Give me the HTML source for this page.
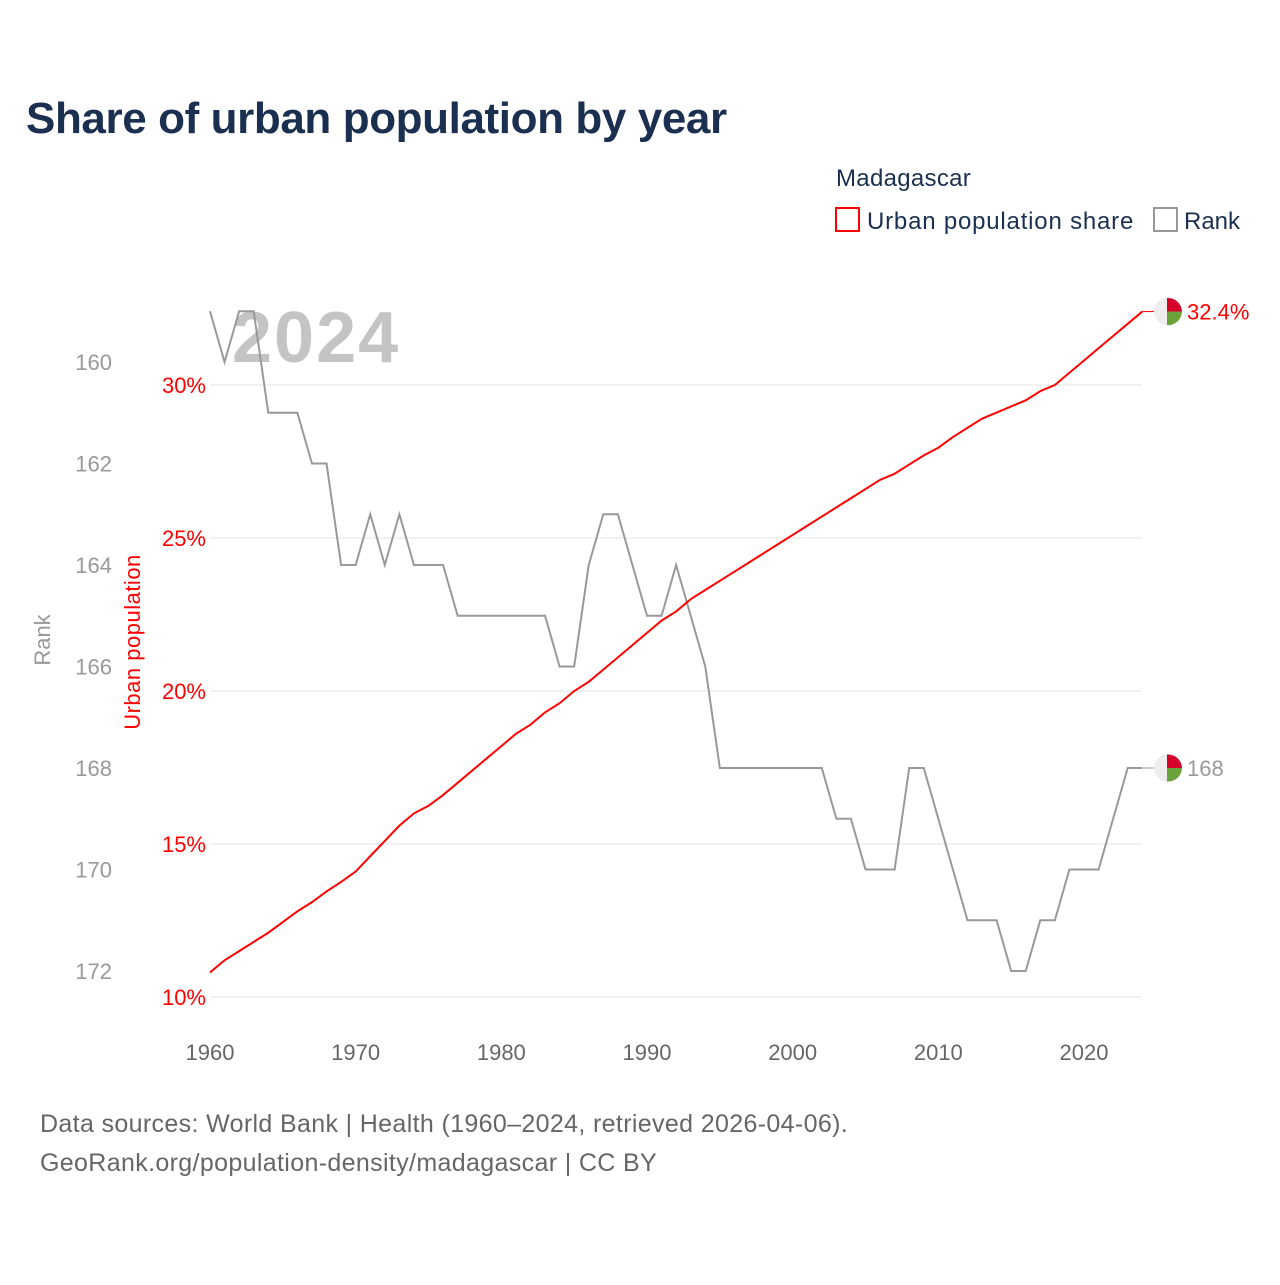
<!DOCTYPE html>
<html><head><meta charset="utf-8"><style>
body{margin:0;background:#fff;font-family:"Liberation Sans",sans-serif}
</style></head><body>
<svg id="chart" width="1280" height="1280" viewBox="0 0 1280 1280" xmlns="http://www.w3.org/2000/svg">
<text x="26" y="133" font-size="44" font-weight="bold" fill="#1b3050" letter-spacing="-0.4">Share of urban population by year</text>
<text x="836" y="186" font-size="24" fill="#1b3050" letter-spacing="0.3">Madagascar</text>
<g><rect x="836" y="208" width="23" height="23" fill="none" stroke="#f00" stroke-width="2"/><text x="867" y="229" font-size="24" fill="#1b3050" letter-spacing="0.8">Urban population share</text></g>
<g><rect x="1154" y="208" width="23" height="23" fill="none" stroke="#999" stroke-width="2"/><text x="1184" y="229" font-size="24" fill="#1b3050">Rank</text></g>
<text x="232" y="362" font-size="72" font-weight="bold" fill="#c4c4c4" letter-spacing="2">2024</text>
<g id="grid"></g><g id="axes"></g><g id="series"></g>
<text transform="translate(50,640) rotate(-90)" text-anchor="middle" font-size="22" fill="#999">Rank</text>
<text transform="translate(140,642) rotate(-90)" text-anchor="middle" font-size="22" fill="#f00" letter-spacing="0.5">Urban population</text>
<text x="40" y="1132" font-size="25" fill="#666" letter-spacing="0.35">Data sources: World Bank | Health (1960–2024, retrieved 2026-04-06).</text>
<text x="40" y="1171" font-size="25" fill="#666" letter-spacing="0.35">GeoRank.org/population-density/madagascar | CC BY</text>
</svg>
<script>
const years=[];for(let y=1960;y<=2024;y++)years.push(y);
const urbanShare=[10.8,11.2,11.5,11.8,12.1,12.45,12.8,13.1,13.45,13.76,14.1,14.6,15.1,15.6,16.0,16.25,16.6,17.0,17.4,17.8,18.2,18.6,18.9,19.3,19.6,20.0,20.3,20.7,21.1,21.5,21.9,22.3,22.6,23.0,23.3,23.6,23.9,24.2,24.5,24.8,25.1,25.4,25.7,26.0,26.3,26.6,26.9,27.1,27.4,27.7,27.95,28.3,28.6,28.9,29.1,29.3,29.5,29.8,30.0,30.4,30.8,31.2,31.6,32.0,32.4];
const rankValues=[159,160,159,159,161,161,161,162,162,164,164,163,164,163,164,164,164,165,165,165,165,165,165,165,166,166,164,163,163,164,165,165,164,165,166,168,168,168,168,168,168,168,168,169,169,170,170,170,168,168,169,170,171,171,171,172,172,171,171,170,170,170,169,168,168];
const urbanTicks=[10,15,20,25,30];
const rankTicks=[160,162,164,166,168,170,172];
const xTicks=[1960,1970,1980,1990,2000,2010,2020];
const NS="http://www.w3.org/2000/svg";
const X=y=>210+(y-1960)*(874/60);
const YU=v=>997-(v-10)*30.6;
const YR=r=>362+(r-160)*50.75;
function mk(t,a,p){const e=document.createElementNS(NS,t);for(const k in a)e.setAttribute(k,a[k]);document.getElementById(p).appendChild(e);return e;}
urbanTicks.forEach(v=>{
 const l=mk('line',{x1:210,x2:1142,y1:YU(v),y2:YU(v),stroke:'#e6e6e6','stroke-width':1},'grid');
 
 
 const t=mk('text',{x:206,y:YU(v)+8,'text-anchor':'end','font-size':22,fill:'#f00'},'axes');t.textContent=v+'%';
 
 
});
rankTicks.forEach(v=>{
 const t=mk('text',{x:112,y:YR(v)+8,'text-anchor':'end','font-size':22,fill:'#999'},'axes');t.textContent=v;
 
 
});
xTicks.forEach(v=>{
 const t=mk('text',{x:X(v),y:1060,'text-anchor':'middle','font-size':22,fill:'#666'},'axes');t.textContent=v;
 
 
});
const rp=mk('polyline',{points:years.map((y,i)=>X(y)+','+YR(rankValues[i])).join(' '),fill:'none',stroke:'#999','stroke-width':2},'series');


const up=mk('polyline',{points:years.map((y,i)=>X(y)+','+YU(urbanShare[i])).join(' '),fill:'none',stroke:'#f00','stroke-width':2},'series');


function badge(cy,label,color,name){
 const x0=X(2024);
 const ln=mk('line',{x1:x0,x2:x0+12,y1:cy,y2:cy,stroke:color,'stroke-width':1},'series');
 
 
 const cx=1168,r=14;
 const g=mk('g',{},'series');
 
 
 const c=document.createElementNS(NS,'circle');c.setAttribute('cx',cx);c.setAttribute('cy',cy);c.setAttribute('r',r);c.setAttribute('fill','#eee');g.appendChild(c);
 const p1=document.createElementNS(NS,'path');p1.setAttribute('d',`M${cx-1},${cy} L${cx-1},${cy-r+0.5} A${r},${r} 0 0 1 ${cx+r},${cy} Z`);p1.setAttribute('fill','#d7002a');g.appendChild(p1);
 const p2=document.createElementNS(NS,'path');p2.setAttribute('d',`M${cx-1},${cy} L${cx+r},${cy} A${r},${r} 0 0 1 ${cx-1},${cy+r-0.5} Z`);p2.setAttribute('fill','#6aa339');g.appendChild(p2);
 const t=mk('text',{x:1187,y:cy+8,'font-size':22,fill:color},'series');t.textContent=label;
 
 
}
badge(YU(urbanShare[urbanShare.length-1]),urbanShare[urbanShare.length-1].toFixed(1)+'%','#f00','urban-end');
badge(YR(rankValues[rankValues.length-1]),String(rankValues[rankValues.length-1]),'#999','rank-end');
</script>
</body></html>
